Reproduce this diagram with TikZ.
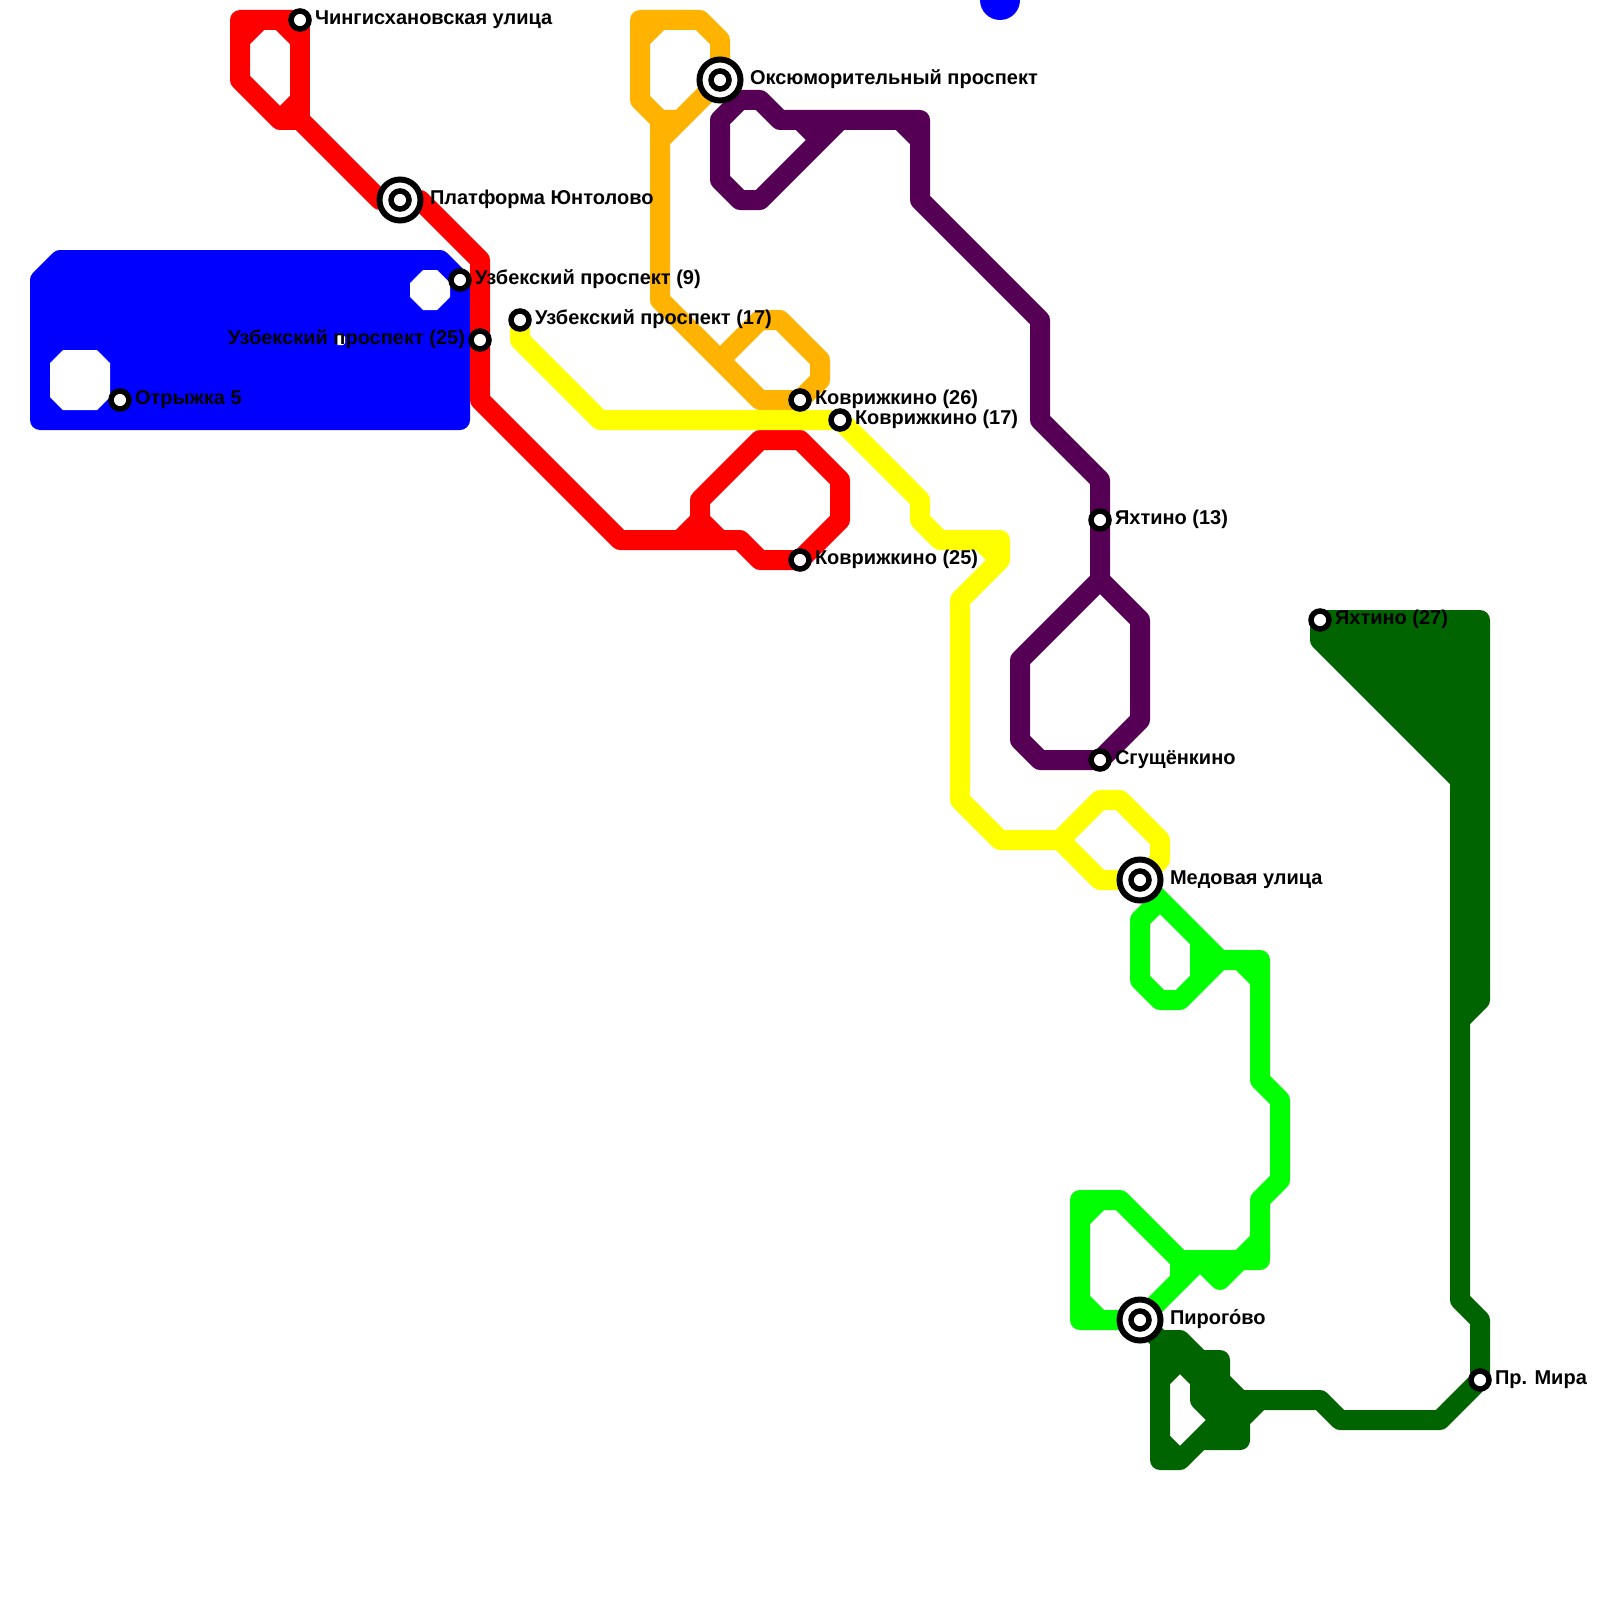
\documentclass[tikz,border=0pt]{standalone}
\usepackage{fontspec}
\setmainfont{Liberation Sans}
\usepackage{tikz}
\usetikzlibrary{positioning, backgrounds}
\definecolor{linered}{HTML}{FF0000}
\definecolor{lineblue}{HTML}{0000FF}
\definecolor{lineorange}{HTML}{FFB300}
\definecolor{lineyellow}{HTML}{FFFF00}
\definecolor{linepurple}{HTML}{550055}
\definecolor{linelime}{HTML}{00FF00}
\definecolor{linedark}{HTML}{006400}

\begin{document}
\begin{tikzpicture}[
    x=0.5pt, y=-0.5pt,
    metro/.style={line width=10pt, line join=round},
    stop/.style={circle, draw=black, fill=white, line width=2.75pt, minimum size=9pt, inner sep=0pt, outer sep=0pt},
    hub/.style={circle, draw=black, fill=white, line width=3pt, minimum size=20.5pt, inner sep=0pt, outer sep=0pt},
    lbl/.style={font=\fontsize{10}{11}\selectfont\bfseries, inner sep=0pt, outer sep=0pt, text height=7.5pt, text depth=3pt}
]
\useasboundingbox (0,0) rectangle (1600,1600);

% --- Interchanges ---
\node[hub] (platformaO) at (400,200) {};
\node[hub] (oksyumO) at (720,80) {};
\node[hub] (medovayaO) at (1140,880) {};
\node[hub] (pirogovoO) at (1140,1320) {};

% --- Stations ---
\node[stop] (chingis) at (300,20) {};
\node[stop] (otryzhka) at (120,400) {};
\node[stop] (platforma) at (400,200) {};
\node[stop] (uzb9) at (460,280) {};
\node[stop] (uzb25) at (480,340) {};
\node[stop] (uzb17) at (520,320) {};
\node[stop] (oksyum) at (720,80) {};
\node[stop] (kovr26) at (800,400) {};
\node[stop] (kovr17) at (840,420) {};
\node[stop] (kovr25) at (800,560) {};
\node[stop] (yaht13) at (1100,520) {};
\node[stop] (sgush) at (1100,760) {};
\node[stop] (medovaya) at (1140,880) {};
\node[stop] (pirogovo) at (1140,1320) {};
\node[stop] (yaht27) at (1320,620) {};
\node[stop] (mira) at (1480,1380) {};

% --- Labels ---
\node[lbl, right=7.5pt of chingis.center] (tchingis) {Чингисхановская улица};
\node[lbl, right=7.5pt of otryzhka.center] (totryzhka) {Отрыжка 5};
\node[lbl, right=15pt of platforma.center] (tplatforma) {Платформа Юнтолово};
\node[lbl, right=7.5pt of uzb9.center] (tuzb9) {Узбекский проспект (9)};
\node[lbl, left=7.5pt of uzb25.center] (tuzb25) {Узбекский проспект (25)};
\node[lbl, right=7.5pt of uzb17.center] (tuzb17) {Узбекский проспект (17)};
\node[lbl, right=15pt of oksyum.center] (toksyum) {Оксюморительный проспект};
\node[lbl, right=7.5pt of kovr26.center] (tkovr26) {Коврижкино (26)};
\node[lbl, right=7.5pt of kovr17.center] (tkovr17) {Коврижкино (17)};
\node[lbl, right=7.5pt of kovr25.center] (tkovr25) {Коврижкино (25)};
\node[lbl, right=7.5pt of yaht13.center] (tyaht13) {Яхтино (13)};
\node[lbl, right=7.5pt of sgush.center] (tsgush) {Сгущёнкино};
\node[lbl, right=15pt of medovaya.center] (tmedovaya) {Медовая улица};
\node[lbl, right=15pt of pirogovo.center] (tpirogovo) {Пирого́во};
\node[lbl, right=7.5pt of yaht27.center] (tyaht27) {Яхтино (27)};
\node[lbl, right=7.5pt of mira.center] (tmira) {Пр. Мира};

\begin{scope}[on background layer]
% --- Blue ---
\node[circle, fill=lineblue, minimum size=20pt, inner sep=0pt, outer sep=0pt] (bluedot) at (1000,0) {};
\draw[metro, draw=lineblue, fill=lineblue] (60,260) -- (440,260) -- (460,280) -- (460,420) -- (40,420) -- (40,280) -- cycle;
\fill[white] (423,270) -- (437,270) -- (450,283) -- (450,297) -- (437,310) -- (423,310) -- (410,297) -- (410,283) -- cycle;
\fill[white] (63,350) -- (97,350) -- (110,363) -- (110,397) -- (97,410) -- (63,410) -- (50,397) -- (50,363) -- cycle;
\fill[white] (338,335) -- (343,335) -- (345,337) -- (345,343) -- (343,345) -- (338,345) -- (336,343) -- (336,337) -- cycle;

% --- Red ---
\draw[metro, linered] (chingis.center) -- (240,20) -- (240,80) -- (280,120) -- (300,120) -- (380,200) -- (platforma.center) -- (420,200) -- (480,260) -- (uzb25.center) -- (480,400) -- (620,540) -- (740,540) -- (760,560) -- (kovr25.center);
\draw[metro, linered] (chingis.center) -- (300,120);
\draw[metro, linered] (240,40) -- (260,20);
\draw[metro, linered] (280,20) -- (300,40);
\draw[metro, linered] (280,120) -- (300,100);
\draw[metro, linered] (680,540) -- (700,520) -- (700,500) -- (760,440) -- (800,440) -- (840,480) -- (840,520) -- (kovr25.center);
\draw[metro, linered] (700,520) -- (720,540);

% --- Orange ---
\draw[metro, lineorange] (oksyum.center) -- (720,40) -- (700,20) -- (640,20) -- (640,100) -- (660,120) -- (660,300) -- (760,400) -- (kovr26.center) -- (820,380) -- (820,360) -- (780,320) -- (760,320) -- (720,360);
\draw[metro, lineorange] (660,120) -- (680,120) -- (oksyum.center);
\draw[metro, lineorange] (660,140) -- (680,120);
\draw[metro, lineorange] (640,40) -- (660,20);

% --- Purple ---
\draw[metro, linepurple] (840,120) -- (760,200) -- (740,200) -- (720,180) -- (720,120) -- (740,100) -- (760,100) -- (780,120) -- (920,120) -- (920,200) -- (1040,320) -- (1040,420) -- (1100,480) -- (yaht13.center) -- (1100,580) -- (1140,620) -- (1140,720) -- (sgush.center) -- (1040,760) -- (1020,740) -- (1020,660) -- (1100,580);
\draw[metro, linepurple] (800,120) -- (820,140);
\draw[metro, linepurple] (900,120) -- (920,140);

% --- Yellow ---
\draw[metro, lineyellow] (uzb17.center) -- (520,340) -- (600,420) -- (kovr17.center) -- (920,500) -- (920,520) -- (940,540) -- (1000,540) -- (1000,560) -- (960,600) -- (960,800) -- (1000,840) -- (1060,840) -- (1100,800) -- (1120,800) -- (1160,840) -- (1160,860) -- (medovaya.center);
\draw[metro, lineyellow] (1060,840) -- (1100,880) -- (medovaya.center);
\draw[metro, lineyellow] (980,540) -- (1000,560);

% --- Lime ---
\draw[metro, linelime] (medovaya.center) -- (1220,960) -- (1260,960) -- (1260,1080) -- (1280,1100) -- (1280,1180) -- (1260,1200) -- (1260,1260) -- (1180,1260) -- (1180,1280) -- (pirogovo.center);
\draw[metro, linelime] (1160,900) -- (1140,920) -- (1140,980) -- (1160,1000) -- (1180,1000) -- (1220,960);
\draw[metro, linelime] (1200,940) -- (1200,980);
\draw[metro, linelime] (1240,960) -- (1260,980);
\draw[metro, linelime] (1180,1260) -- (1120,1200) -- (1080,1200) -- (1080,1320) -- (pirogovo.center);
\draw[metro, linelime] (1100,1200) -- (1080,1220);
\draw[metro, linelime] (1080,1300) -- (1100,1320);
\draw[metro, linelime] (1200,1260) -- (1220,1280) -- (1260,1240);
\draw[metro, linelime] (1200,1260) -- (1180,1280);

% --- Dark green ---
\draw[metro, linedark, fill=linedark] (1320,620) -- (1480,620) -- (1480,1000) -- (1460,1020) -- (1460,780) -- (1320,640) -- cycle;
\draw[metro, linedark] (1460,1020) -- (1460,1300) -- (1480,1320) -- (mira.center) -- (1440,1420) -- (1340,1420) -- (1320,1400) -- (1240,1400) -- (1220,1380) -- (1220,1360) -- (1200,1360) -- (1180,1340) -- (1160,1340) -- (1160,1460) -- (1180,1460) -- (1240,1400);
\draw[metro, linedark] (pirogovo.center) -- (1160,1340);
\draw[metro, linedark] (1160,1380) -- (1180,1360) -- (1200,1380) -- (1200,1400) -- (1240,1440) -- (1200,1440);
\draw[metro, linedark] (1240,1440) -- (1240,1420) -- (1260,1400);
\draw[metro, linedark] (1160,1440) -- (1180,1460);
\draw[metro, linedark] (1220,1380) -- (1220,1420);
\draw[metro, linedark] (1160,1360) -- (1180,1340);
\draw[metro, linedark] (1200,1360) -- (1200,1380);
\end{scope}
\end{tikzpicture}
\end{document}
